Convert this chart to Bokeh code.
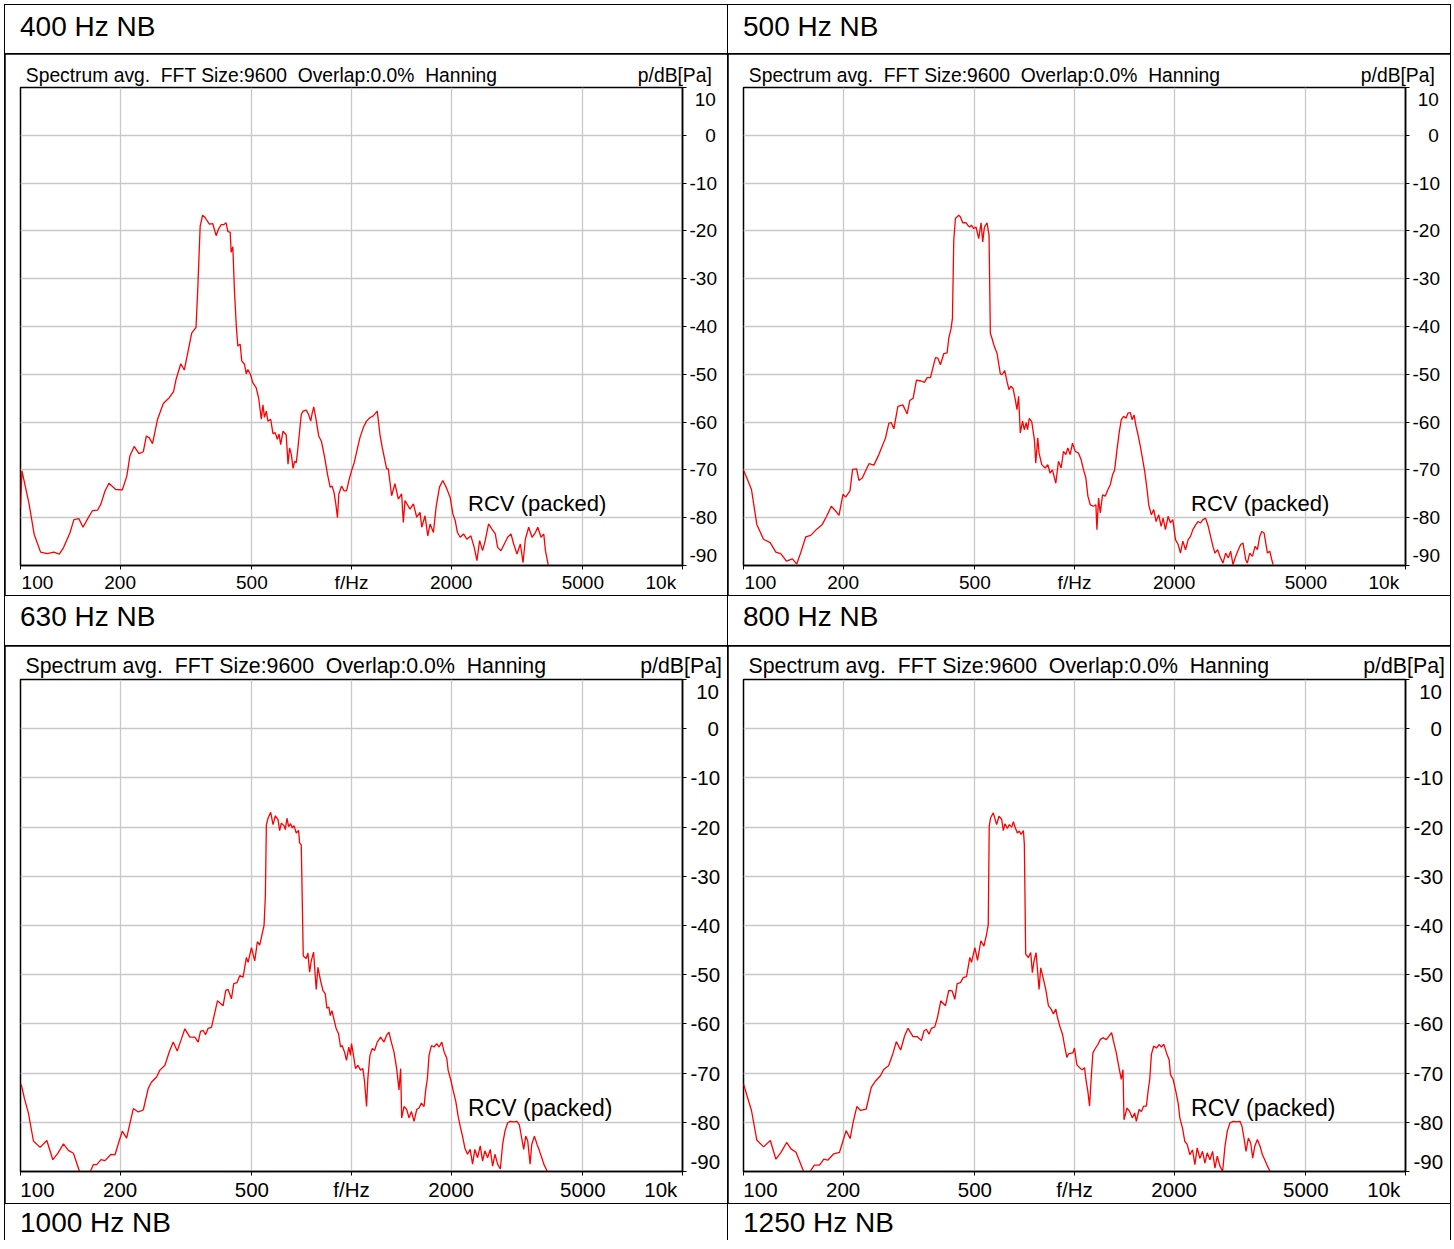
from bokeh.plotting import figure
from bokeh.models import Range1d, FixedTicker, Label, Div, LogAxis, LinearAxis
from bokeh.layouts import row, column
from bokeh.embed import file_html
from bokeh.resources import INLINE

FONT = "Liberation Sans"

title_texts = ["400 Hz NB", "500 Hz NB", "630 Hz NB", "800 Hz NB", "1000 Hz NB", "1250 Hz NB"]
header_text = "Spectrum avg.  FFT Size:9600  Overlap:0.0%  Hanning"
unit_text = "p/dB[Pa]"
note_text = "RCV (packed)"
x_ticks = [100, 200, 500, 1000, 2000, 5000, 10000]
x_tick_labels = ["100", "200", "500", "f/Hz", "2000", "5000", "10k"]
y_ticks = [-90, -80, -70, -60, -50, -40, -30, -20, -10, 0, 10]
y_tick_labels = ["-90", "-80", "-70", "-60", "-50", "-40", "-30", "-20", "-10", "0", "10"]

# ---- 400 Hz NB ----
freq_400 = [
    100, 101, 106, 110, 115, 120.5, 126, 131, 135, 141,
    145, 150, 154.5, 159, 165, 171, 175, 180, 185, 194,
    203, 209.5, 214, 220.5, 228, 235, 240, 245, 250.5, 259.5,
    270, 281.5, 290, 295, 305, 312.5, 318, 329, 339, 343,
    349, 355, 361, 372, 381, 390, 396, 404, 411, 418,
    423, 430, 433, 438, 443, 449, 453.5, 461, 466, 475,
    481, 486, 495, 503.5, 515, 524, 534, 540, 546, 553,
    559, 570, 579, 588, 597, 604, 611, 621, 635, 643,
    650, 658, 666, 673, 681, 689, 705, 714, 730, 742,
    753, 760, 769, 780, 796, 811, 830, 846, 862, 874,
    886, 897, 907, 915.5, 933, 950, 966, 981.5, 1000, 1019,
    1043, 1060, 1085, 1110, 1136, 1163, 1196, 1219, 1239, 1277,
    1292, 1322, 1353, 1385, 1417, 1434, 1451, 1502, 1538, 1574,
    1611, 1630, 1668, 1700, 1728, 1768, 1801, 1844, 1887, 1931,
    1986, 2024, 2057, 2090, 2130, 2180, 2231, 2294, 2348, 2393,
    2438, 2489, 2535, 2595, 2656, 2719, 2763, 2828, 2895, 2963,
    3032, 3090, 3162, 3237, 3298, 3351, 3430, 3511, 3594, 3653,
    3739, 3809, 3854, 3917, 3945,
]
level_400 = [
    -78, -70.2, -76.9, -83.5, -87.2, -87.5, -87.2, -87.6, -86.2, -83.2,
    -80.4, -80.2, -82.0, -80.4, -78.5, -78.4, -77.1, -74.4, -72.8, -74.1,
    -74.2, -71.3, -67.1, -65.1, -66.6, -66.2, -62.9, -63.3, -64.5, -59.4,
    -56.1, -54.9, -53.6, -51.1, -47.8, -49.1, -46.5, -41.4, -40.2, -32.6,
    -19.0, -16.7, -17.2, -18.6, -18.5, -21.0, -19.7, -18.7, -18.7, -18.3,
    -20.1, -20.3, -24.5, -23.3, -32.6, -40.2, -44.1, -43.7, -47.2, -47.9,
    -49.9, -49.0, -50.0, -51.8, -52.8, -54.9, -59.4, -56.4, -59.0, -57.7,
    -59.8, -59.4, -62.4, -62.2, -63.6, -62.5, -64.7, -61.9, -62.7, -68.8,
    -65.4, -66.8, -69.7, -68.2, -68.5, -65.4, -58.4, -57.7, -57.5, -58.4,
    -59.8, -58.3, -56.8, -59.1, -62.9, -64.0, -67.5, -70.9, -73.6, -73.4,
    -74.8, -77.2, -80.0, -75.1, -73.4, -74.4, -74.4, -72.3, -70.2, -68.5,
    -65.4, -63.3, -61.2, -59.8, -59.1, -58.7, -57.7, -62.6, -65.4, -69.8,
    -69.8, -75.4, -72.9, -76.1, -75.0, -81.0, -76.4, -78.2, -77.1, -79.9,
    -78.9, -82.0, -79.6, -83.8, -81.3, -83.1, -77.8, -73.6, -72.2, -73.6,
    -75.7, -79.2, -80.6, -83.1, -84.1, -83.4, -84.5, -83.8, -86.2, -89.0,
    -84.8, -86.9, -84.8, -81.3, -82.4, -83.4, -86.2, -86.9, -85.5, -84.1,
    -83.4, -85.5, -87.6, -85.5, -89.4, -84.5, -82.0, -84.1, -83.1, -82.0,
    -84.1, -83.4, -86.9, -89.4, -90.5,
]

# ---- 500 Hz NB ----
freq_500 = [
    100, 102.8, 105.7, 109.7, 114.9, 120.4, 125.2, 129.6, 134.8, 140.5,
    144.8, 148.9, 154.2, 159.6, 166.4, 173.0, 178.3, 184.2, 189.8, 194.3,
    199.8, 203.5, 209.7, 213.6, 219.6, 223.2, 228.5, 239.3, 247.7, 256.4,
    268.6, 274.9, 279.4, 284.6, 292.7, 303.0, 312.2, 318.0, 325.5, 333.1,
    344.1, 352.1, 358.7, 367.1, 380.1, 386.3, 393.6, 402.7, 412.2, 417.0,
    423.8, 427.8, 431.8, 436.8, 447.0, 452.2, 459.6, 470.4, 475.8, 482.5,
    488.1, 496.1, 504.2, 513.6, 522.0, 528.1, 534.2, 544.2, 551.8, 556.9,
    563.4, 572.6, 583.3, 597.0, 603.9, 615.2, 625.2, 633.9, 642.7, 651.8,
    662.4, 670.1, 677.9, 685.8, 696.9, 705.0, 714.9, 721.5, 729.9, 742.6,
    756.7, 763.7, 774.4, 781.6, 796.2, 815.0, 830.4, 844.0, 857.8, 878.0,
    894.5, 911.3, 926.3, 941.3, 954.6, 970.3, 986.1, 1004.7, 1028.3, 1047.6,
    1064.9, 1082.2, 1097.6, 1115.6, 1141.9, 1160.5, 1168.7, 1182.2, 1196.2, 1215.6,
    1238.4, 1261.8, 1282.6, 1303.7, 1322.0, 1343.7, 1365.8, 1385.0, 1407.8, 1431.0,
    1451.0, 1474.9, 1492.0, 1513.0, 1534.4, 1555.6, 1581.3, 1607.3, 1629.7, 1656.6,
    1675.8, 1707.3, 1735.5, 1764.1, 1796.9, 1826.5, 1852.3, 1882.4, 1917.8, 1949.4,
    1981.5, 2018.8, 2056.4, 2090.3, 2124.8, 2164.8, 2205.1, 2241.5, 2278.4, 2321.3,
    2364.4, 2403.4, 2443.0, 2489.0, 2535.3, 2577.1, 2619.6, 2656.1, 2706.1, 2750.7,
    2808.9, 2861.8, 2915.0, 2963.1, 3011.9, 3068.6, 3125.7, 3177.2, 3229.6, 3290.4,
    3328.5, 3383.3, 3447.0, 3511.9, 3569.0, 3628.0, 3679.3, 3739.1, 3783.3, 3827.1,
    3890.0, 3944.6, 3981.1,
]
level_500 = [
    -70.1, -72.0, -74.1, -81.4, -84.5, -85.2, -87.2, -87.5, -89.1, -88.6,
    -89.7, -87.3, -84.0, -83.7, -82.4, -81.4, -79.7, -77.6, -78.6, -79.5,
    -75.1, -75.7, -74.4, -69.9, -69.8, -72.2, -71.7, -68.7, -69.0, -66.8,
    -63.3, -60.2, -60.1, -61.4, -56.7, -56.4, -58.3, -55.5, -55.0, -51.2,
    -51.4, -51.7, -50.7, -50.7, -46.5, -46.6, -48.0, -45.7, -45.5, -42.5,
    -40.4, -38.3, -21.9, -17.4, -16.7, -17.1, -18.3, -18.3, -18.8, -19.2,
    -18.8, -19.5, -19.2, -21.6, -18.3, -22.3, -19.2, -18.3, -20.9, -41.4,
    -42.5, -44.2, -45.6, -49.9, -50.1, -49.2, -51.5, -53.2, -52.5, -52.9,
    -55.3, -57.4, -54.6, -62.3, -59.8, -61.6, -60.1, -61.6, -59.2, -59.9,
    -63.7, -68.6, -63.3, -66.5, -68.9, -69.6, -68.9, -70.7, -70.0, -72.8,
    -68.2, -69.6, -66.1, -66.8, -65.4, -66.8, -64.4, -66.1, -66.5, -67.9,
    -70.0, -71.7, -75.5, -77.3, -77.6, -77.3, -82.5, -75.9, -79.0, -75.2,
    -75.5, -74.1, -73.1, -71.0, -70.0, -65.8, -62.0, -59.5, -58.8, -59.2,
    -58.1, -58.0, -59.5, -58.5, -60.9, -62.6, -65.1, -67.9, -70.3, -74.1,
    -77.3, -79.4, -78.3, -80.8, -79.4, -81.8, -80.1, -82.5, -79.7, -81.1,
    -80.4, -84.6, -85.6, -87.4, -84.9, -86.7, -84.6, -83.9, -82.5, -81.5,
    -80.8, -81.1, -80.4, -80.1, -81.8, -83.9, -86.0, -87.4, -86.7, -88.1,
    -89.5, -87.4, -88.4, -87.0, -89.8, -88.1, -86.7, -85.6, -85.3, -88.8,
    -89.5, -87.4, -88.1, -86.0, -86.7, -83.9, -82.9, -83.2, -85.3, -87.4,
    -87.0, -88.8, -89.8,
]

# ---- 630 Hz NB ----
freq_630 = [
    100.5, 102.8, 105.7, 109.4, 114.6, 120.1, 125.2, 129.6, 134.8, 139.5,
    144.5, 150.6, 154.9, 163.3, 166.0, 169.9, 175.1, 180.0, 187.7, 193.0,
    198.4, 203.0, 209.2, 214.1, 219.2, 226.9, 234.9, 243.2, 248.9, 257.7,
    263.7, 273.1, 281.4, 289.3, 297.5, 306.5, 313.7, 324.8, 336.3, 344.2,
    349.8, 356.3, 362.2, 368.9, 377.6, 384.6, 393.6, 409.4, 417.0, 423.8,
    433.8, 440.8, 451.1, 459.6, 470.4, 481.4, 487.0, 498.5, 510.1, 519.6,
    528.1, 536.7, 544.2, 549.3, 553.1, 559.5, 570.0, 579.3, 588.7, 599.7,
    606.7, 613.7, 625.2, 631.0, 638.3, 645.8, 654.8, 662.4, 670.1, 681.1,
    692.2, 696.9, 705.0, 714.9, 729.9, 738.4, 747.1, 755.8, 768.1, 777.1,
    782.5, 791.6, 806.4, 819.6, 833.0, 842.7, 854.5, 862.4, 872.5, 884.7,
    899.2, 913.9, 926.6, 937.0, 952.3, 965.6, 981.5, 993.1, 1000, 1011.7,
    1028.3, 1045.2, 1064.8, 1082.3, 1094.9, 1110.3, 1120.6, 1136.6, 1155.1, 1174.1,
    1196.2, 1224.4, 1253.1, 1276.7, 1297.6, 1319.0, 1343.8, 1369.0, 1391.4, 1407.8,
    1417.6, 1441.0, 1468.2, 1492.2, 1516.7, 1545.3, 1574.0, 1599.6, 1625.9, 1656.5,
    1675.7, 1695.5, 1715.1, 1743.5, 1776.2, 1809.7, 1839.1, 1873.8, 1904.6, 1940.5,
    1958.5, 1995.3, 2032.8, 2066.4, 2100.0, 2129.7, 2164.8, 2199.9, 2241.3, 2283.5,
    2321.2, 2359.0, 2403.4, 2448.7, 2489.0, 2529.3, 2576.9, 2625.4, 2668.6, 2712.6,
    2763.6, 2815.6, 2861.7, 2908.5, 2963.2, 3019.0, 3089.9, 3162.3, 3214.4, 3267.0,
    3313.3, 3360.1, 3407.3, 3463.4, 3503.5, 3569.5, 3636.7, 3696.7, 3756.8, 3809.9,
    3872.6, 3917.4,
]
level_630 = [
    -72.3, -75.2, -78.2, -83.8, -85.1, -83.7, -87.6, -86.3, -84.4, -85.7,
    -86.3, -89.9, -93.0, -89.7, -88.6, -88.6, -87.6, -87.8, -86.5, -86.6,
    -83.9, -81.8, -83.2, -80.2, -77.2, -77.9, -77.5, -73.1, -71.8, -70.8,
    -69.4, -68.4, -65.7, -63.7, -65.5, -63.0, -61.0, -62.7, -62.7, -63.7,
    -61.5, -61.3, -62.2, -60.9, -60.7, -58.3, -55.3, -56.3, -53.2, -53.0,
    -54.9, -51.8, -51.6, -50.2, -50.5, -46.5, -47.5, -44.5, -47.2, -43.3,
    -44.0, -41.8, -40.0, -34.0, -19.5, -18.2, -17.0, -19.5, -17.7, -18.5,
    -20.7, -19.2, -19.7, -20.5, -18.2, -19.9, -19.3, -20.2, -19.7, -21.2,
    -20.7, -23.2, -23.6, -46.2, -46.7, -45.6, -49.5, -47.2, -45.4, -50.2,
    -53.0, -48.5, -51.2, -53.2, -53.9, -56.8, -56.6, -58.3, -57.3, -59.0,
    -61.0, -62.0, -64.7, -64.4, -65.7, -67.4, -64.7, -66.4, -64.0, -66.0,
    -69.1, -68.4, -69.4, -69.1, -71.7, -76.8, -71.1, -66.4, -65.0, -65.4,
    -63.7, -62.7, -63.7, -62.3, -61.7, -63.7, -65.7, -69.1, -73.4, -69.1,
    -79.1, -76.8, -77.4, -79.1, -77.8, -79.8, -77.4, -77.1, -76.1, -76.8,
    -73.4, -71.1, -66.4, -64.4, -64.7, -64.0, -64.7, -63.7, -65.7, -67.0,
    -69.4, -71.4, -73.8, -75.8, -78.8, -80.8, -82.8, -85.2, -86.5, -85.5,
    -88.5, -85.5, -87.2, -84.8, -87.9, -85.8, -87.2, -85.5, -88.9, -86.5,
    -88.5, -89.5, -84.5, -81.8, -80.1, -79.8, -79.9, -79.8, -80.5, -83.2,
    -85.5, -82.8, -83.8, -88.5, -84.5, -82.8, -84.5, -85.8, -87.2, -88.5,
    -89.5, -90.2,
]

# ---- 800 Hz NB ----
freq_800 = [
    100, 102.8, 105.7, 109.7, 115.0, 120.5, 125.3, 129.8, 135.0, 139.1,
    144.1, 150.9, 154.5, 163.7, 169.6, 174.8, 179.7, 187.4, 195.0, 199.5,
    204.2, 210.0, 214.0, 220.0, 225.7, 234.8, 243.2, 250.6, 259.5, 265.6,
    274.4, 282.8, 289.5, 298.4, 306.8, 314.0, 325.2, 335.2, 344.7, 351.2,
    356.9, 363.6, 369.6, 378.3, 385.4, 394.5, 407.5, 417.1, 426.9, 434.9,
    442.1, 452.5, 460.9, 471.8, 482.9, 488.6, 500.0, 509.4, 521.4, 532.5,
    542.4, 548.8, 552.6, 557.9, 568.3, 581.7, 591.3, 602.4, 609.5, 616.6,
    626.7, 635.5, 645.9, 653.5, 661.1, 672.0, 681.4, 689.4, 700.7, 705.5,
    712.1, 725.5, 737.4, 746.0, 754.7, 765.3, 774.3, 781.5, 790.7, 805.6,
    818.7, 834.1, 849.8, 863.8, 878.0, 888.3, 905.0, 919.8, 937.1, 948.0,
    959.0, 988.5, 1000, 1016.4, 1035.5, 1055.0, 1072.3, 1084.8, 1097.5, 1110.3,
    1123.3, 1136.5, 1157.8, 1176.8, 1196.1, 1218.6, 1247.3, 1270.7, 1294.6, 1315.8,
    1337.4, 1362.6, 1385.0, 1401.2, 1411.0, 1440.8, 1467.8, 1495.4, 1519.9, 1537.7,
    1566.6, 1592.4, 1618.5, 1648.9, 1668.1, 1687.6, 1707.4, 1735.4, 1768.0, 1801.3,
    1830.9, 1861.0, 1896.0, 1931.6, 1949.7, 1986.3, 2023.6, 2056.8, 2080.8, 2119.9,
    2154.4, 2189.8, 2231.0, 2272.9, 2310.1, 2348.0, 2392.1, 2437.1, 2477.1, 2517.8,
    2565.1, 2613.3, 2656.2, 2699.8, 2750.5, 2802.2, 2848.0, 2894.8, 2949.3, 3018.6,
    3089.4, 3162.3, 3206.7, 3251.8, 3297.5, 3351.6, 3406.7, 3454.5, 3503.1, 3569.0,
    3636.0, 3695.7, 3756.4, 3809.2, 3871.6, 3916.8,
]
level_800 = [
    -72.2, -74.9, -77.6, -83.6, -85.0, -83.7, -87.5, -86.1, -84.1, -85.4,
    -86.1, -89.5, -91.2, -88.7, -88.7, -87.5, -87.7, -86.4, -86.1, -83.9,
    -81.7, -83.3, -80.2, -76.8, -77.6, -77.3, -72.9, -71.6, -70.5, -69.2,
    -68.5, -66.0, -63.6, -65.3, -62.4, -60.9, -62.6, -62.6, -63.4, -61.4,
    -61.1, -62.1, -60.9, -60.6, -58.7, -55.3, -56.3, -53.2, -53.3, -55.0,
    -51.8, -51.6, -50.6, -50.4, -46.5, -47.5, -44.5, -47.1, -43.1, -44.2,
    -41.8, -39.8, -19.8, -18.1, -17.1, -19.5, -17.8, -18.4, -20.7, -19.3,
    -20.3, -19.5, -20.0, -18.9, -20.0, -21.2, -20.8, -21.5, -20.7, -23.5,
    -45.8, -46.5, -45.5, -49.6, -47.2, -45.5, -49.6, -53.0, -48.6, -50.9,
    -53.0, -56.3, -57.0, -58.0, -57.0, -58.7, -60.7, -62.1, -65.1, -66.8,
    -66.1, -65.9, -64.9, -68.3, -68.9, -69.3, -68.9, -71.7, -73.7, -76.7,
    -71.0, -65.9, -64.9, -64.2, -63.2, -62.8, -63.2, -62.5, -61.8, -63.9,
    -65.9, -68.9, -71.3, -69.3, -79.5, -77.1, -77.8, -79.1, -78.1, -79.8,
    -77.4, -77.8, -76.7, -76.7, -73.7, -71.3, -66.2, -64.5, -64.9, -64.2,
    -64.7, -64.1, -65.9, -67.3, -70.3, -71.3, -73.7, -76.1, -79.1, -81.2,
    -83.9, -84.5, -86.6, -85.6, -88.6, -85.2, -87.3, -85.9, -88.3, -86.2,
    -87.6, -85.9, -89.3, -86.9, -88.9, -90.0, -84.9, -81.8, -80.1, -79.8,
    -79.9, -79.8, -80.8, -83.2, -85.9, -83.2, -84.2, -87.3, -84.9, -83.5,
    -84.9, -86.6, -87.6, -88.6, -89.6, -90.3,
]

COL_W = 722
FRAME_W = 662

# label anchors: the edge labels sit inside the frame, as in the original software
x_label_pos = [round(x_ticks[0] * 1.125, 1)] + x_ticks[1:-1] + [round(x_ticks[-1] * 0.86, 1)]
y_label_pos = [y_ticks[0] + 2.0] + y_ticks[1:-1] + [y_ticks[-1] - 2.5]
header_shown = header_text.replace("  ", "\u00a0 ")


def right_aligned(s):
    # pad with figure / punctuation spaces so that the labels line up on the right
    if s.startswith("-"):
        return s
    if len(s) == 1:
        return "\u2007\u2008" + s
    return "\u2008" + s


y_labels_shown = [right_aligned(s) for s in y_tick_labels]


def style_labels(ax, size):
    ax.axis_line_color = None
    ax.major_tick_line_color = None
    ax.minor_tick_line_color = None
    ax.major_tick_out = 0
    ax.major_tick_in = 0
    ax.minor_tick_out = 0
    ax.minor_tick_in = 0
    ax.major_label_text_font = FONT
    ax.major_label_text_font_size = size
    ax.major_label_text_color = "black"


def make_panel(freq, level, h, top, fh, fs_tick, fs_head, fs_note, head_x, unit_x, y_standoff):
    p = figure(width=COL_W, height=h, title=None, x_axis_type="log",
               x_range=Range1d(100, 10000), y_range=Range1d(-90, 10),
               y_axis_location="right", output_backend="svg", toolbar_location=None,
               min_border_left=15, min_border_right=COL_W - 15 - FRAME_W,
               min_border_top=top, min_border_bottom=h - top - fh,
               background_fill_color="white", border_fill_color="white")
    p.line(freq, level, line_color="#ff0000", line_width=1.3)

    # inner axes: axis line and tick marks only
    xa = p.xaxis[0]
    ya = p.yaxis[0]
    xa.ticker = FixedTicker(ticks=x_ticks, minor_ticks=[])
    ya.ticker = FixedTicker(ticks=y_ticks, minor_ticks=[])
    xa.major_label_overrides = {t: "" for t in x_ticks}
    ya.major_label_overrides = {t: "" for t in y_ticks}
    for ax in (xa, ya):
        ax.axis_line_color = "black"
        ax.axis_line_width = 1.5
        ax.major_tick_line_color = "black"
        ax.major_tick_out = 4
        ax.major_tick_in = 0
        ax.minor_tick_out = 0
        ax.minor_tick_in = 0
        ax.major_label_standoff = 0
        ax.major_label_text_font_size = "0px"

    # outer axes: the tick labels
    xl = LogAxis(ticker=FixedTicker(ticks=x_label_pos, minor_ticks=[]),
                 major_label_overrides=dict(zip(x_label_pos, x_tick_labels)),
                 major_label_standoff=2)
    style_labels(xl, fs_tick)
    p.add_layout(xl, "below")
    yl = LinearAxis(ticker=FixedTicker(ticks=y_label_pos, minor_ticks=[]),
                    major_label_overrides=dict(zip(y_label_pos, y_labels_shown)),
                    major_label_standoff=y_standoff)
    style_labels(yl, fs_tick)
    p.add_layout(yl, "right")

    p.xgrid.ticker = FixedTicker(ticks=x_ticks)
    p.ygrid.ticker = FixedTicker(ticks=y_ticks)
    p.grid.grid_line_color = "#c8c8c8"
    p.grid.grid_line_width = 1.3
    p.outline_line_color = "black"
    p.outline_line_width = 1.5
    p.outline_line_alpha = 1.0

    # header line above the frame: measurement description and unit
    head_axis = LogAxis(ticker=FixedTicker(ticks=[head_x, unit_x], minor_ticks=[]),
                        major_label_overrides={head_x: header_shown, unit_x: unit_text},
                        major_label_standoff=2)
    style_labels(head_axis, fs_head)
    p.add_layout(head_axis, "above")

    p.add_layout(Label(x=2250, y=-77, text=note_text, text_baseline="middle",
                       text_align="left", text_font=FONT, text_font_size=fs_note,
                       text_color="black"))
    return p


def title_div(text, h, lh):
    return Div(text=text, width=COL_W, height=h, margin=0,
               styles={"background-color": "white", "font-family": FONT,
                       "font-size": "28px", "line-height": f"{lh}px",
                       "padding-left": "15px", "box-sizing": "border-box",
                       "color": "black", "overflow": "hidden", "white-space": "nowrap"})


p1 = make_panel(freq_400, level_400, 541, 33, 478, "19px", "19.3px", "22px", 535, 9480, 3)
p2 = make_panel(freq_500, level_500, 541, 33, 478, "19px", "19.3px", "22px", 535, 9480, 3)
p3 = make_panel(freq_630, level_630, 557, 33, 494, "20.5px", "21.3px", "23px", 634, 9900, 4)
p4 = make_panel(freq_800, level_800, 557, 33, 494, "20.5px", "21.3px", "23px", 634, 9900, 4)

left = column(title_div(title_texts[0], 48, 44), p1,
              title_div(title_texts[2], 49, 42), p3,
              title_div(title_texts[4], 36, 38),
              spacing=1, styles={"background-color": "black"})
right = column(title_div(title_texts[1], 48, 44), p2,
               title_div(title_texts[3], 49, 42), p4,
               title_div(title_texts[5], 36, 38),
               spacing=1, styles={"background-color": "black"})
page = row(left, right, spacing=1,
           styles={"background-color": "black", "padding": "1px 1px 0px 1px",
                   "margin-left": "4px", "margin-top": "4px"})

open("out.html", "w").write(file_html(page, INLINE, "Spectra"))
